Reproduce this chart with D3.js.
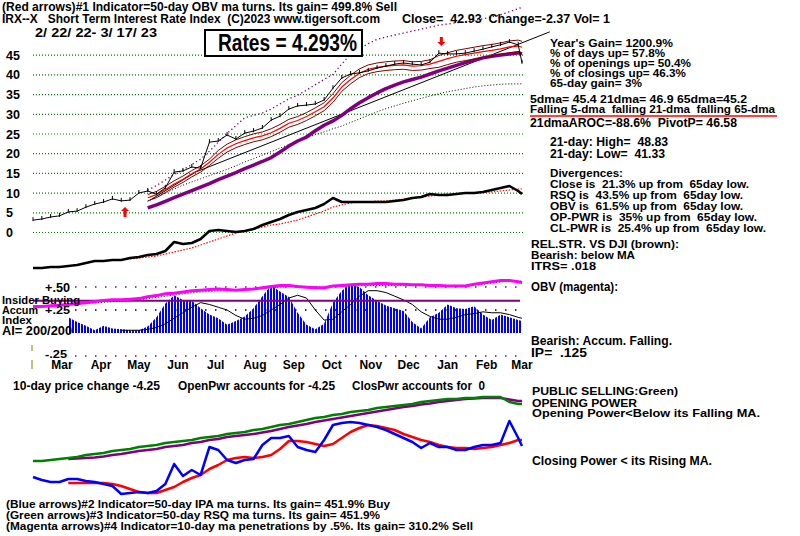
<!DOCTYPE html>
<html><head><meta charset="utf-8">
<script src="https://cdn.jsdelivr.net/npm/d3@7"></script>
<style>
body{margin:0;background:#fff}
svg{display:block}
text{font-family:"Liberation Sans",Arial,sans-serif;font-weight:bold;font-size:12.5px;fill:#000}
</style>
</head><body>
<svg id="c" width="800" height="536"></svg>
<script>
// ---------------- DATA ----------------
const startDate = "2022-02-22", endDate = "2023-03-17";
// weekly observation dates (56 weeks) + final day
const weeks = d3.range(56).map(i => d3.utcDay.offset(new Date(startDate), 7 * i)).concat([new Date(endDate)]);

const priceTicks = [0, 5, 10, 15, 20, 25, 30, 35, 40, 45];
const monthLabels = ["Mar","Apr","May","Jun","Jul","Aug","Sep","Oct","Nov","Dec","Jan","Feb","Mar"];
const monthTickDates = ["2022-03-15","2022-04-15","2022-05-15","2022-06-15","2022-07-15","2022-08-15","2022-09-15","2022-10-15","2022-11-15","2022-12-15","2023-01-15","2023-02-15","2023-03-15"];

// main price panel (weeks 0..56)
const price = [3.0,3.3,3.8,4.1,5.1,5.3,6.3,7.1,7.6,8.4,7.9,8.1,9.9,10.4,9.6,11.2,15.2,15.5,16.5,16.2,22.8,23.1,24.6,23.6,25.1,25.6,26.4,28.4,29.4,31.2,32,32.2,32.5,33.5,36.5,39.1,40.1,40.4,40.9,41.6,42.1,42.6,42.9,42.6,42.4,43.1,45.4,45.2,45.2,45.4,45.9,46.4,47,47.5,48.2,47.5,42.93];
// series starting at week 13
const maStart = 13;
const ma21 = [8.7,9.5,10.8,12.2,13.4,14.8,16,17.7,19.7,21.3,22.4,23.2,23.9,24.4,25.2,26.3,27.6,28.3,29.3,30.5,31.8,34,36.8,38.7,40.3,41.3,41.8,42.1,42.3,42.4,42.1,42.2,42.6,43.3,44,44.6,45,45.4,45.8,46.1,46.5,47,47.2,46.9];
const ma21Upper = [9.5,10.3,11.6,13.0,14.2,15.6,16.8,18.5,20.7,22.3,23.4,24.2,24.9,25.4,26.2,27.3,28.6,29.3,30.3,31.5,32.8,35.1,37.9,39.8,41.4,42.4,42.9,43.2,43.4,43.5,43.2,43.3,43.7,44.8,45.5,46.1,46.5,46.9,47.3,47.6,48.0,48.5,48.7,48.4];
const ma21Lower = [7.9,8.7,10.0,11.4,12.6,14.0,15.2,16.9,18.7,20.3,21.4,22.2,22.9,23.4,24.2,25.3,26.6,27.3,28.3,29.5,30.8,32.9,35.7,37.6,39.2,40.2,40.7,41.0,41.2,41.3,41.0,41.1,41.5,41.8,42.5,43.1,43.5,43.9,44.3,44.6,45.0,45.5,45.7,45.4];
const ma65 = [6.1,6.9,7.8,8.7,9.6,10.5,11.4,12.3,13.3,14.2,15.1,16.1,17,17.9,18.9,20.3,21.8,23.1,24.1,25.7,27.1,28.2,29.6,31.3,32.8,34.1,35.3,36.4,37.3,38.1,38.7,39.3,40.1,40.9,41.6,42.3,43,43.6,44.2,44.6,44.9,45.2,45.5,45.2];
const bandUpper = [10.6,11.8,13.2,14.6,15.8,17.1,18.5,20.5,22.8,25,27,29,29.6,30.2,31.2,32.5,33.8,34.7,36,37.4,38.7,40,42.6,45.1,46.5,47.8,48.9,49.5,50,50.5,51,51.5,52,52.5,52.8,53.1,53.4,53.7,54.1,54.6,55.1,55.9,56.7,57];
const bandLower = [7.8,8.9,9.9,10.9,11.9,12.7,13.5,14.3,15.1,15.9,16.8,17.8,18.6,19.5,20.4,21.3,22.2,23.1,23.9,24.7,25.4,26.2,26.9,27.8,28.7,29.6,30.5,31.3,32,32.7,33.3,33.9,34.5,35.1,35.6,36,36.4,36.8,37.1,37.3,37.5,37.6,37.6,37.6];
const trendDates = ["2022-05-26","2022-07-01","2023-04-08"];
const trendVals = [8.1, 15.2, 50.8];
const buyArrowDates = ["2022-05-06"];
const sellArrowDates = ["2023-01-12"];

// lower indicator line in price panel (weeks 0..56) and its MA (from week 10)
const indLine = [2,2,3,3,4,5,7,9,9,10,10,12,13,15,16,19,28,26,27,31,39,40,39,38,39,41,45,48,51,55,58,60,62,66,72,68,68,68,68,68,68,69,70,72,73,76,75,75,76,77,77,78,80,82,84,79,76];
const indMAStart = 10;
const indMA = [10,11,12,13,14,16,18,20,22,25,28,31,34,37,39,41,43,45,46,48,50,53,56,59,63,65,67,68,68,69,69,70,71,72,73,74,75,76,76,77,77,78,78,79,80,81,81];

// relative strength (weeks 0..56) and its MA (from week 5)
const relStr = [6,6,7,8,9,11,12,14,16,17,17,18,19,22,24,27,28,30,32,33,34,35,34,33,34,35,37,39,41,41,39,38,37,37,40,41,42,43,43,44,44,43,43,42,42,41,41,40,40,40,43,45,47,49,49,47,46];
const relStrMAStart = 5;
const relStrMA = [10,11,12,13,14,15,16,17,19,21,23,25,27,29,30,31,32,32,33,34,35,36,37,38,39,40,39,39,38,39,40,40,41,41,41,41,41,41,41,41,41,41,41,41,41,42,43,45,47,48,48,48];

// accumulation index (from week 4) and its MA (from week 10)
const aiTicks = [0.5, 0.25, -0.25];
const aiSignal = 0.35;
const aiStart = 4;
const accum = [0.17,0.12,0.08,0.03,0.08,0.05,0.04,0.03,0.03,0.07,0.17,0.32,0.41,0.36,0.35,0.27,0.2,0.16,0.09,0.13,0.18,0.27,0.4,0.52,0.45,0.39,0.22,0.09,0.04,0.1,0.33,0.46,0.53,0.5,0.41,0.35,0.3,0.27,0.24,0.12,0.05,0.17,0.22,0.31,0.27,0.26,0.29,0.2,0.14,0.2,0.17,0.14,0.13];
const accumMAStart = 10;
const accumMA = [0.03,0.03,0.03,0.04,0.06,0.1,0.16,0.22,0.28,0.33,0.31,0.28,0.25,0.19,0.15,0.16,0.19,0.25,0.31,0.38,0.41,0.38,0.25,0.14,0.15,0.23,0.31,0.4,0.46,0.46,0.44,0.4,0.36,0.31,0.23,0.18,0.15,0.15,0.17,0.2,0.21,0.23,0.22,0.22,0.2,0.17,0.16];

// opening / closing power panel
const openPwr = [39,39,40,41,42,43,45,46,47,49,50,51,53,54,55,57,58,59,60,62,63,64,66,67,68,70,71,73,75,76,78,80,82,83,85,86,88,89,90,92,93,94,95,96,98,99,100,101,101,102,102,103,103,103,98,96,96];
const openMAStart = 4;
const openMA = [41,41.5,42,42.5,43.5,45,46,47.5,49,50,51,53,54,55,57,58,60,61,63,64,65,66,67.5,69,71,73,74.5,76,78,79.5,81,82.5,84,85.5,87,88.5,90,91.5,93,94,95.5,96.5,98,99,100,101,101.5,102,102,102,100.5,99,99];
const closePwr = [23,20,18,18,21,21,19,18,16,14,6,7,8,7,9,16,36,24,30,25,53,50,40,37,40,41,55,62,62,64,53,50,48,60,75,77,78,77,75,73,70,66,62,58,52,57,53,53,50,50,53,55,55,57,79,62,54];
const closeMAStart = 4;
const closeMA = [17,17,17,17,17,16,14,11,8,7,7,10,13,18,22,25,31,35,40,42,43,42,43,45,51,59,59,58,56,54,56,62,68,72,75,74,72,70,66,63,60,58,55,53,52,52,51,52,53,55,57,60,60];

// ---------------- CHART ----------------
const svg = d3.select("#c");
const ser = (vals, start = 0) => vals.map((v, i) => ({ d: weeks[start + i], v }));

const x = d3.scaleUtc().domain([new Date(startDate), new Date(endDate)]).range([33, 522]);
const yP = d3.scaleLinear().domain([0, 45]).range([232, 54.7]);
const yInd = d3.scaleLinear().domain([0, 100]).range([270, 170]);
const yRS = d3.scaleLinear().domain([0, 100]).range([310, 250]);
const yAI = d3.scaleLinear().domain([-0.25, 0.5]).range([356, 287]);
const yPw = d3.scaleLinear().domain([0, 100]).range([500, 400]);

function line(data, ys, color, width, dash) {
  const g = d3.line().x(d => x(d.d)).y(d => ys(d.v));
  const p = svg.append("path").datum(data).attr("d", g).attr("fill", "none")
    .attr("stroke", color).attr("stroke-width", width).attr("stroke-linejoin", "round");
  if (dash) p.attr("stroke-dasharray", dash);
  return p;
}

// gridlines (green dotted) via axis
const grid = svg.append("g").attr("transform", "translate(33,0)")
  .call(d3.axisLeft(yP).tickValues(priceTicks).tickSize(-490).tickFormat(""));
grid.select(".domain").remove();
grid.selectAll("line").attr("stroke", "#008000").attr("stroke-width", 1.2).attr("stroke-dasharray", "1,2");

// price axis labels
const ax = svg.append("g").attr("transform", "translate(6,0)")
  .call(d3.axisLeft(yP).tickValues(priceTicks).tickSize(0).tickPadding(0));
ax.select(".domain").remove();
ax.selectAll("text").attr("text-anchor", "start").attr("x", 0).attr("dy", "0.36em")
  .style("font-size", "12.5px").style("font-family", '"Liberation Sans",Arial,sans-serif').style("font-weight", "bold");

// accum panel guide lines
const aiColors = ["#800080", "#000", "#800080"];
aiTicks.forEach((t, i) => {
  svg.append("line").attr("x1", 75).attr("x2", 520).attr("y1", yAI(t)).attr("y2", yAI(t))
    .attr("stroke", aiColors[i]).attr("stroke-width", 1.5).attr("stroke-dasharray", "1.5,8.5");
});

// accum index (striped bars)
const defs = svg.append("defs");
const pat = defs.append("pattern").attr("id", "stripes").attr("patternUnits", "userSpaceOnUse")
  .attr("width", 3).attr("height", 10);
pat.append("rect").attr("width", 2).attr("height", 10).attr("fill", "#0000ff");
const aiData = ser(accum, aiStart);
svg.append("path").datum(aiData)
  .attr("d", d3.area().x(d => x(d.d)).y0(yAI(0)).y1(d => yAI(d.v)))
  .attr("fill", "url(#stripes)");
line(ser(accumMA, accumMAStart), yAI, "#000", 1);

// insider buying level line
svg.append("line").attr("x1", 33).attr("x2", 520).attr("y1", yAI(aiSignal)).attr("y2", yAI(aiSignal))
  .attr("stroke", "#800080").attr("stroke-width", 2);

// relative strength
line(ser(relStrMA, relStrMAStart), yRS, "#000", 1, "1,2");
line(ser(relStr), yRS, "#ff00ff", 3);

// lower indicator line in price panel
line(ser(indMA, indMAStart), yInd, "#ff0000", 1.2, "1.5,1.5");
line(ser(indLine), yInd, "#000", 2.5);

// bands / MAs
line(ser(bandLower, maStart), yP, "#000", 1, "1,2");
line(ser(bandUpper, maStart), yP, "#800080", 1.3, "1.3,2.7");
line(trendDates.map((d, i) => ({ d: new Date(d), v: trendVals[i] })), yP, "#000", 1);
line(ser(ma65, maStart), yP, "#800080", 3.5);
line(ser(ma21Upper, maStart), yP, "#800000", 1);
line(ser(ma21Lower, maStart), yP, "#800000", 1);
line(ser(ma21, maStart), yP, "#ff0000", 1.2);

// price
const pData = ser(price);
line(pData, yP, "#000", 1);
svg.append("g").selectAll("line").data(pData).join("line")
  .attr("x1", d => x(d.d)).attr("x2", d => x(d.d))
  .attr("y1", d => yP(d.v) - 3).attr("y2", d => yP(d.v) + 1)
  .attr("stroke", "#000").attr("stroke-width", 1);

// signal arrows
function priceAt(dstr) {
  const t = new Date(dstr);
  const i = d3.bisector(d => d.d).left(pData, t);
  return pData[Math.max(0, Math.min(pData.length - 1, i))].v;
}
buyArrowDates.forEach(ds => {
  const cx = x(new Date(ds)), top = yP(priceAt(ds)) + 7;
  svg.append("path").attr("d", `M${cx},${top} l-4,4 h2.5 v6 h3 v-6 h2.5 z`).attr("fill", "#ff0000");
});
sellArrowDates.forEach(ds => {
  const cx = x(new Date(ds)), bot = yP(priceAt(ds)) - 8;
  svg.append("path").attr("d", `M${cx},${bot} l-4,-4 h2.5 v-5 h3 v5 h2.5 z`).attr("fill", "#ff0000");
});

// power panel
line(ser(openMA, openMAStart), yPw, "#800080", 2.5);
line(ser(openPwr), yPw, "#008000", 2.5);
line(ser(closeMA, closeMAStart), yPw, "#ff0000", 2.5);
line(ser(closePwr), yPw, "#0000ff", 2.5);

// month axis
const mAx = svg.append("g").attr("transform", "translate(2,359)")
  .call(d3.axisBottom(x).tickValues(monthTickDates.map(d => new Date(d))).tickSize(0).tickPadding(0)
    .tickFormat((d, i) => monthLabels[i]));
mAx.select(".domain").remove();
mAx.selectAll("text").attr("dy", "0.85em")
  .style("font-size", "12px").style("font-family", '"Liberation Sans",Arial,sans-serif').style("font-weight", "bold");

// olive marker ticks
svg.append("line").attr("x1", 32).attr("x2", 32).attr("y1", 345).attr("y2", 351).attr("stroke", "#808000").attr("stroke-width", 1);
svg.append("line").attr("x1", 32).attr("x2", 32).attr("y1", 360).attr("y2", 369).attr("stroke", "#808000").attr("stroke-width", 1);

// Rates box
svg.append("rect").attr("x", 205).attr("y", 30).attr("width", 157).attr("height", 26)
  .attr("fill", "#fff").attr("stroke", "#000").attr("stroke-width", 2);
svg.append("text").attr("x", 218).attr("y", 50.5).text("Rates = 4.293%")
  .style("font-size", "23px").attr("textLength", 139).attr("lengthAdjust", "spacingAndGlyphs");

// text block: x, baseline, string, width, font size
const texts = [
  [2, 11, "(Red arrows)#1 Indicator=50-day OBV ma turns. Its gain= 499.8% Sell", 395, 12.5],
  [2, 23, "IRX--X   Short Term Interest Rate Index  (C)2023 www.tigersoft.com", 378, 12.5],
  [402, 23, "Close=  42.93  Change=-2.37 Vol= 1", 208, 12.5],
  [35, 37, "2/ 22/ 22- 3/ 17/ 23", 122, 12.5],
  [550, 47, "Year's Gain= 1200.9%", 123, 11.5],
  [550, 57, "% of days up= 57.8%", 115, 11.5],
  [550, 67, "% of openings up= 50.4%", 141, 11.5],
  [550, 77, "% of closings up= 46.3%", 136, 11.5],
  [550, 87, "65-day gain= 3%", 92, 11.5],
  [530, 103, "5dma= 45.4 21dma= 46.9 65dma=45.2", 217, 11.5],
  [530, 113, "Falling 5-dma  falling 21-dma  falling 65-dma", 245, 11.5],
  [530, 127, "21dmaAROC=-88.6%  PivotP= 46.58", 207, 12],
  [550, 146, "21-day: High=  48.83", 118, 12],
  [550, 158, "21-day: Low=  41.33", 115, 12],
  [550, 177, "Divergences:", 73, 11.5],
  [550, 188, "Close is  21.3% up from  65day low.", 199, 11.5],
  [550, 199, "RSQ is  43.5% up from  65day low.", 193, 11.5],
  [550, 210, "OBV is  61.5% up from  65day low.", 193, 11.5],
  [550, 221, "OP-PWR is  35% up from  65day low.", 207, 11.5],
  [550, 232, "CL-PWR is  25.4% up from  65day low.", 216, 11.5],
  [531, 248, "REL.STR. VS DJI (brown):", 148, 11.5],
  [531, 259, "Bearish: below MA", 104, 11.5],
  [531, 270, "ITRS= .018", 65, 11.5],
  [531, 291, "OBV (magenta):", 87, 12],
  [531, 345, "Bearish: Accum. Falling.", 141, 12],
  [531, 357, "IP=  .125", 56, 12],
  [45, 292, "+.50", 25, 12],
  [2, 304, "Insider Buying", 78, 11.5],
  [2, 314, "Accum", 36, 11],
  [45, 314, "+.25", 25, 11],
  [2, 324, "Index", 30, 11],
  [2, 335, "AI= 200/200", 70, 12],
  [45, 358, "-.25", 22, 11.5],
  [13, 390, "10-day price change -4.25", 147, 12.5],
  [178, 390, "OpenPwr accounts for -4.25", 157, 12.5],
  [352, 390, "ClosPwr accounts for  0", 133, 12.5],
  [532, 395, "PUBLIC SELLING:Green)", 146, 11.5],
  [532, 407, "OPENING POWER", 105, 11.5],
  [532, 417, "Opening Power<Below its Falling MA.", 228, 11.5],
  [532, 465, "Closing Power < its Rising MA.", 180, 12.5],
  [6, 508, "(Blue arrows)#2 Indicator=50-day IPA ma turns. Its gain= 451.9% Buy", 384, 11.5],
  [6, 519, "(Green arrows)#3 Indicator=50-day RSQ ma turns. Its gain= 451.9%", 374, 11.5],
  [6, 530, "(Magenta arrows)#4 Indicator=10-day ma penetrations by .5%. Its gain= 310.2% Sell", 467, 11.5]
];
svg.append("g").selectAll("text").data(texts).join("text")
  .attr("x", d => d[0]).attr("y", d => d[1]).text(d => d[2])
  .style("font-size", d => d[4] + "px")
  .attr("textLength", d => d[3]).attr("lengthAdjust", "spacingAndGlyphs")
  .attr("xml:space", "preserve").style("white-space", "pre");

// red underline
svg.append("line").attr("x1", 530).attr("x2", 777).attr("y1", 116).attr("y2", 116)
  .attr("stroke", "#ff0000").attr("stroke-width", 1.5);
</script>
</body></html>
